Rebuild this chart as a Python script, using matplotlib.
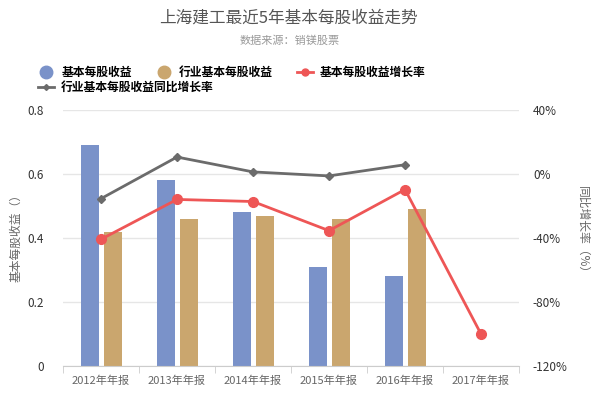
import numpy as np
import matplotlib
matplotlib.use("Agg")
import matplotlib.pyplot as plt
from matplotlib.lines import Line2D

plt.rcParams['font.family'] = ['Noto Sans CJK SC', 'DejaVu Sans']

# -- data
years = ['2012年年报', '2013年年报', '2014年年报', '2015年年报', '2016年年报', '2017年年报']
eps = [0.69, 0.58, 0.48, 0.31, 0.28, None]
industry_eps = [0.42, 0.46, 0.47, 0.46, 0.49, None]
eps_growth = [-40.8, -15.9, -17.2, -35.4, -9.7, -100.0]
industry_growth = [-15.4, 10.6, 1.3, -1.2, 5.8, None]

left_ticks = [0, 0.2, 0.4, 0.6, 0.8]
left_labels = ['0', '0.2', '0.4', '0.6', '0.8']
right_ticks = [-120, -80, -40, 0, 40]
right_labels = ['-120%', '-80%', '-40%', '0%', '40%']

BLUE = '#7a92c9'
TAN = '#caa66e'
RED = '#ee5656'
GREY = '#6b6b6b'

fig = plt.figure(figsize=(6, 4), dpi=100)
ax = fig.add_axes([0.105, 0.085, 0.76, 0.64])
ax2 = ax.twinx()

x = np.arange(len(years))
w = 0.24

# -- bars
for i in range(len(years)):
    if eps[i] is not None:
        ax.bar(x[i] - 0.145, eps[i], width=w, color=BLUE, zorder=2)
    if industry_eps[i] is not None:
        ax.bar(x[i] + 0.158, industry_eps[i], width=w, color=TAN, zorder=2)

# -- lines
xg = [x[i] for i in range(len(years)) if industry_growth[i] is not None]
yg = [v for v in industry_growth if v is not None]
ax2.plot(xg, yg, color=GREY, lw=2, marker='D', ms=4, zorder=3)
ax2.plot(x, eps_growth, color=RED, lw=2, marker='o', ms=7, zorder=4)

# -- axes
ax.set_xlim(-0.5, len(years) - 0.5)
ax.set_ylim(0, 0.8)
ax2.set_ylim(-120, 40)
ax.set_yticks(left_ticks)
ax.set_yticklabels(left_labels)
ax2.set_yticks(right_ticks)
ax2.set_yticklabels(right_labels)
ax.set_xticks(x)
ax.set_xticklabels(years)
ax.set_xticks(np.arange(-0.5, len(years), 1.0), minor=True)

ax.grid(axis='y', color='#e6e6e6', lw=1, zorder=0)
ax.set_axisbelow(True)
for a in (ax, ax2):
    for s in ['top', 'left', 'right']:
        a.spines[s].set_visible(False)
    a.spines['bottom'].set_color('#cccccc')
ax2.spines['bottom'].set_visible(False)

ax.tick_params(axis='x', which='major', length=0, labelsize=8, labelcolor='#666666', pad=7)
ax.tick_params(axis='x', which='minor', length=5, color='#cccccc')
ax.tick_params(axis='y', length=0, labelsize=8.5, labelcolor='#333333', pad=14)
ax2.tick_params(axis='y', length=0, labelsize=8.5, labelcolor='#333333', pad=10)

ax.set_ylabel('基本每股收益（）', fontsize=8.5, color='#666666')
ax.yaxis.set_label_coords(-0.09, 0.51)
ax2.set_ylabel('同比增长率（%）', fontsize=8.5, color='#666666', rotation=-90, va='center')
ax2.yaxis.set_label_coords(1.14, 0.52)

# -- titles
fig.text(0.48, 0.955, '上海建工最近5年基本每股收益走势', ha='center', va='center',
         fontsize=12, color='#555555')
fig.text(0.483, 0.898, '数据来源：销镁股票', ha='center', va='center',
         fontsize=8, color='#999999')

# -- legend
h1 = Line2D([], [], ls='none', marker='o', ms=9, color=BLUE)
h2 = Line2D([], [], ls='none', marker='o', ms=9, color=TAN)
h3 = Line2D([], [], color=RED, lw=2, marker='o', ms=5)
h4 = Line2D([], [], color=GREY, lw=2, marker='D', ms=3)
fig.legend([h1, h2, h3], ['基本每股收益', '行业基本每股收益', '基本每股收益增长率'],
           loc='center left', bbox_to_anchor=(0.045, 0.818), ncol=3, frameon=False,
           handlelength=1.4, handletextpad=0.6, columnspacing=2.0,
           prop={'weight': 'bold', 'size': 8.5})
fig.legend([h4], ['行业基本每股收益同比增长率'],
           loc='center left', bbox_to_anchor=(0.045, 0.781), frameon=False,
           handlelength=1.4, handletextpad=0.6, prop={'weight': 'bold', 'size': 8.5})

fig.savefig('out.png', dpi=100)
